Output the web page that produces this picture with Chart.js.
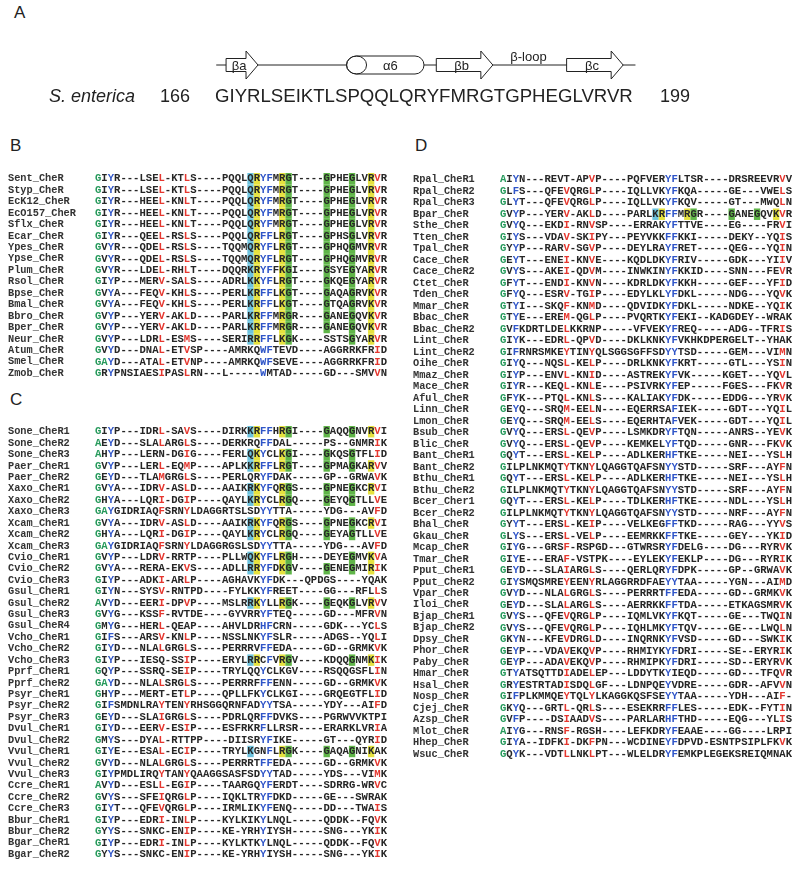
<!DOCTYPE html>
<html>
<head>
<meta charset="utf-8">
<script src="https://cdn.jsdelivr.net/npm/chart.js@4.4.0/dist/chart.umd.min.js"></script>
<style>
  body { margin: 0; background: #fff; width: 795px; height: 869px; position: relative; overflow: hidden; }
  canvas { position: absolute; }
  .tag { position: absolute; font: 17px "Liberation Sans", Arial, sans-serif; color: #222; }
</style>
</head>
<body>
<div class="tag" style="left:14px;top:3px">A</div>
<div class="tag" style="left:10px;top:136px">B</div>
<div class="tag" style="left:10px;top:390px">C</div>
<div class="tag" style="left:415px;top:136px">D</div>
<canvas id="chart-a" width="795" height="90" style="left:0;top:30px"></canvas>
<canvas id="chart-b"></canvas>
<canvas id="chart-c"></canvas>
<canvas id="chart-d"></canvas>
<script>
// ---- panel A : secondary structure of S. enterica CheR 166-199
const seqA = 'GIYRLSEIKTLSPQQLQRYFMRGTGPHEGLVRVR';
const seqAFirst = 166;
const seqALast = 199;
const organismA = 'S. enterica';
const elementLabels = ['βa', 'α6', 'βb', 'βc'];
const elementKinds = ['strand', 'helix', 'strand', 'strand'];
const elementStart = [166.4, 176.2, 183.5, 194.1];
const elementEnd = [169.0, 182.5, 188.1, 198.7];
const loopLabel = 'β-loop';
const loopCenter = 191.0;

// ---- panel B
const namesB = ['Sent_CheR', 'Styp_CheR', 'EcK12_CheR', 'EcO157_CheR', 'Sflx_CheR', 'Ecar_CheR',
  'Ypes_CheR', 'Ypse_CheR', 'Plum_CheR', 'Rsol_CheR', 'Bpse_CheR', 'Bmal_CheR', 'Bbro_CheR',
  'Bper_CheR', 'Neur_CheR', 'Atum_CheR', 'Smel_CheR', 'Zmob_CheR'];
const seqsB = [
  'GIYR---LSEL-KTLS----PQQLQRYFMRGT----GPHEGLVRVR',
  'GIYR---LSEL-KTLS----PQQLQRYFMRGT----GPHEGLVRVR',
  'GIYR---HEEL-KNLT----PQQLQRYFMRGT----GPHEGLVRVR',
  'GIYR---HEEL-KNLT----PQQLQRYFMRGT----GPHEGLVRVR',
  'GIYR---HEEL-KNLT----PQQLQRYFMRGT----GPHEGLVRVR',
  'GIYR---QEEL-RSLS----PQQLQRFFLRGT----GPHSGLVRVR',
  'GVYR---QDEL-RSLS----TQQMQRYFLRGT----GPHQGMVRVR',
  'GVYR---QDEL-RSLS----TQQMQRYFLRGT----GPHQGMVRVR',
  'GVYR---LDEL-RHLT----DQQRKRYFFKGI----GSYEGYARVR',
  'GIYP---MERV-SALS----ADRLKKYFLRGT----GKQEGYARVR',
  'GVYA---FEQV-KHLS----PERLKRFFLKGT----GAQAGRVKVR',
  'GVYA---FEQV-KHLS----PERLKRFFLKGT----GTQAGRVKVR',
  'GVYP---YERV-AKLD----PARLKRFFMRGR----GANEGQVKVR',
  'GVYP---YERV-AKLD----PARLKRFFMRGR----GANEGQVKVR',
  'GVYP---LDRL-ESMS----SERIRRFFLKGK----SSTSGYARVR',
  'GVYD---DNAL-ETVSP----AMRKQWFTEVD----AGGRRKFRID',
  'GAYD---ATAL-ETVNP----AMRKQWFSEVE----AGGRRKFRID',
  'GRYPNSIAESIPASLRN---L-----WMTAD-----GD---SMVVN'
];
const bandRowsB = [0, 1, 2, 3, 4, 5, 6, 7, 8, 9, 10, 11, 12, 13, 14];

// ---- panel C
const namesC = ['Sone_CheR1', 'Sone_CheR2', 'Sone_CheR3', 'Paer_CheR1', 'Paer_CheR2', 'Xaxo_CheR1',
  'Xaxo_CheR2', 'Xaxo_CheR3', 'Xcam_CheR1', 'Xcam_CheR2', 'Xcam_CheR3', 'Cvio_CheR1', 'Cvio_CheR2',
  'Cvio_CheR3', 'Gsul_CheR1', 'Gsul_CheR2', 'Gsul_CheR3', 'Gsul_CheR4', 'Vcho_CheR1', 'Vcho_CheR2',
  'Vcho_CheR3', 'Pprf_CheR1', 'Pprf_CheR2', 'Psyr_CheR1', 'Psyr_CheR2', 'Psyr_CheR3', 'Dvul_CheR1',
  'Dvul_CheR2', 'Vvul_CheR1', 'Vvul_CheR2', 'Vvul_CheR3', 'Ccre_CheR1', 'Ccre_CheR2', 'Ccre_CheR3',
  'Bbur_CheR1', 'Bbur_CheR2', 'Bgar_CheR1', 'Bgar_CheR2'];
const seqsC = [
  'GIYP---IDRL-SAVS----DIRKKRFFHRGI----GAQQGNVRVI',
  'AEYD---SLALARGLS----DERKRQFFDAL-----PS--GNMRIK',
  'AHYP---LERN-DGIG----FERLQKYCLKGI----GKQSGTFLID',
  'GVYP---LERL-EQMP----APLKKRFFLRGT----GPMAGKARVV',
  'GEYD---TLAMGRGLS----PERLQRYFDAK-----GP--GRWAVK',
  'GVYA---IDRV-ASLD----AAIKRKYFQRGS----GPNEGKCRVI',
  'GHYA---LQRI-DGIP----QAYLKRYCLRGQ----GEYQGTLLVE',
  'GAYGIDRIAQFSRNYLDAGGRTSLSDYYTTA-----YDG---AVFD',
  'GVYA---IDRV-ASLD----AAIKRKYFQRGS----GPNEGKCRVI',
  'GHYA---LQRI-DGIP----QAYLKRYCLRGQ----GEYAGTLLVE',
  'GAYGIDRIAQFSRNYLDAGGRGSLSDYYTTA-----YDG---AVFD',
  'GVYP---LDRV-RRTP----PLLWQKYFLRGH----DEYEGMVKVA',
  'GVYA---RERA-EKVS----ADLLRRYFDKGV----GENEGMIRIK',
  'GIYP---ADKI-ARLP----AGHAVKYFDK---QPDGS----YQAK',
  'GIYN---SYSV-RNTPD----FYLKKYFREET----GG---RFLLS',
  'AVYD---EERI-DPVP----MSLRRKYLLRGK----GEQKGLVRVV',
  'GVYG---KSSF-RVTDE----GYVRRYFTEQ-----GD---MFRVN',
  'GMYG---HERL-QEAP----AHVLDRHFCRN-----GDK---YCLS',
  'GIFS---ARSV-KNLP----NSSLNKYFSLR-----ADGS--YQLI',
  'GIYD---NLALGRGLS----PERRRVFFEDA-----GD--GRMKVK',
  'GIYP---IESQ-SSIP----ERYLRRCFVRGV----KDQQGNMKIK',
  'GQYP---SSRQ-SEIP----TRYLQQYCLKGV----RSQQGSFLIN',
  'GAYD---NLALSRGLS----PERRRFFFENN-----GD--GRMKVK',
  'GHYP---MERT-ETLP----QPLLFKYCLKGI----GRQEGTFLID',
  'GIFSMDNLRAYTENYRHSGGQRNFADYYTSA-----YDY---AIFD',
  'GEYD---SLAIGRGLS----PDRLQRFFDVKS----PGRWVVKTPI',
  'GIYD---EERV-ESIP----ESFRKRFLLRSR----ERARKLVRIA',
  'GMYS---DYAL-RTTPP----DIISRYFIKE-----GT---QYRID',
  'GIYE---ESAL-ECIP----TRYLKGNFLRGK----GAQAGNIKAK',
  'GVYD---NLALGRGLS----PERRRTFFEDA-----GD--GRMKVK',
  'GIYPMDLIRQYTANYQAAGGSASFSDYYTAD-----YDS---VIMK',
  'AVYD---ESLL-EGIP----TAARGQYFERDT----SDRRG-WRVC',
  'GVYS---SFEIQRGLP----IQKLTRYFDKD-----GE---SWRAK',
  'GIYT---QFEVQRGLP----IRMLIKYFENQ-----DD---TWAIS',
  'GIYP---EDRI-INLP----KYLKIKYLNQL-----QDDK--FQVK',
  'GYYS---SNKC-ENIP----KE-YRHYIYSH-----SNG---YKIK',
  'GIYP---EDRI-INLP----KYLKTKYLNQL-----QDDK--FQVK',
  'GYYS---SNKC-ENIP----KE-YRHYIYSH-----SNG---YKIK'
];
const bandRowsC = [0, 2, 3, 5, 6, 8, 9, 11, 12, 15, 20, 28];

// ---- panel D
const namesD = ['Rpal_CheR1', 'Rpal_CheR2', 'Rpal_CheR3', 'Bpar_CheR', 'Sthe_CheR', 'Tten_CheR',
  'Tpal_CheR', 'Cace_CheR', 'Cace_CheR2', 'Ctet_CheR', 'Tden_CheR', 'Mmar_CheR', 'Bbac_CheR',
  'Bbac_CheR2', 'Lint_CheR', 'Lint_CheR2', 'Oihe_CheR', 'Mmaz_CheR', 'Mace_CheR', 'Aful_CheR',
  'Linn_CheR', 'Lmon_CheR', 'Bsub_CheR', 'Blic_CheR', 'Bant_CheR1', 'Bant_CheR2', 'Bthu_CheR1',
  'Bthu_CheR2', 'Bcer_Cher1', 'Bcer_CheR2', 'Bhal_CheR', 'Gkau_CheR', 'Mcap_CheR', 'Tmar_CheR',
  'Pput_CheR1', 'Pput_CheR2', 'Vpar_CheR', 'Iloi_CheR', 'Bjap_CheR1', 'Bjap_CheR2', 'Dpsy_CheR',
  'Phor_CheR', 'Paby_CheR', 'Hmar_CheR', 'Hsal_CheR', 'Nosp_CheR', 'Cjej_CheR', 'Azsp_CheR',
  'Mlot_CheR', 'Hhep_CheR', 'Wsuc_CheR'];
const seqsD = [
  'AIYN---REVT-APVP----PQFVERYFLTSR----DRSREEVRVV',
  'GLFS---QFEVQRGLP----IQLLVKYFKQA-----GE---VWELS',
  'GLYT---QFEVQRGLP----IQLLVKYFKQV-----GT---MWQLN',
  'GVYP---YERV-AKLD----PARLKRFFMRGR----GANEGQVKVR',
  'GVYQ---EKDI-RNVSP----ERRAKYFTTVE----EG----FRVI',
  'GIYS---VDAV-SKIPY---PEYVKKFFKKI-----DEKY--YQIS',
  'GYYP---RARV-SGVP----DEYLRAYFRET-----QEG---YQIN',
  'GEYT---ENEI-KNVE----KQDLDKYFRIV-----GDK---YIIV',
  'GVYS---AKEI-QDVM----INWKINYFKKID----SNN---FEVR',
  'GFYT---ENDI-KNVN----KDRLDKYFKKH-----GEF---YFID',
  'GFYQ---ESRV-TGIP----EDYLKLYFDKL-----NDG---YQVK',
  'GTYI---SKQF-KNMD----QDVIDKYFDKL-----NDKE--YQIK',
  'GTYE---EREM-QGLP----PVQRTKYFEKI--KADGDEY--WRAK',
  'GVFKDRTLDELKKRNP-----VFVEKYFREQ-----ADG--TFRIS',
  'GIYK---EDRL-QPVD----DKLKNKYFVKHKDPERGELT--YHAK',
  'GIFRNRSMKEYTINYQLSGGSGFFSDYYTSD-----GEM---VIMN',
  'GIYQ---NQSL-KELP----DRLKNKYFKRT-----GTL---YSIN',
  'GIYP---ENVL-KNID----ASTREKYFVK-----KGET---YQVL',
  'GIYR---KEQL-KNLE----PSIVRKYFEP-----FGES---FKVR',
  'GFYK---PTQL-KNLS----KALIAKYFDK-----EDDG---YRVK',
  'GEYQ---SRQM-EELN----EQERRSAFIEK-----GDT---YQIL',
  'GEYQ---SRQM-EELS----EQERHTAFVEK-----GDT---YQIL',
  'GVYQ---ERSL-QEVP----LSMKDRYFTQN-----ANRS--YEVK',
  'GVYQ---ERSL-QEVP----KEMKELYFTQD-----GNR---FKVK',
  'GQYT---ERSL-KELP----ADLKERHFTKE-----NEI---YSLH',
  'GILPLNKMQTYTKNYLQAGGTQAFSNYYSTD-----SRF---AYFN',
  'GQYT---ERSL-KELP----ADLKERHFTKE-----NEI---YSLH',
  'GILPLNKMQTYTKNYLQAGGTQAFSNYYSTD-----SRF---AYFN',
  'GQYT---ERSL-KELP----TDLKERHFTKE-----NDL---YSLH',
  'GILPLNKMQTYTKNYLQAGGTQAFSNYYSTD-----NRF---AYFN',
  'GYYT---ERSL-KEIP----VELKEGFFTKD-----RAG---YYVS',
  'GLYS---ERSL-VELP----EEMRKKFFTKE-----GEY---YKID',
  'GIYG---GRSF-RSPGD---GTWRSRYFDELG----DG---RYRVK',
  'GIYE---ERAF-VSTPK----EYLEKYFEKLP----DG---RYRIK',
  'GEYD---SLAIARGLS----QERLQRYFDPK-----GP--GRWAVK',
  'GIYSMQSMREYEENYRLAGGRRDFAEYYTAA-----YGN---AIMD',
  'GVYD---NLALGRGLS----PERRRTFFEDA-----GD--GRMKVK',
  'GEYD---SLALARGLS----AERRKKFFTDA-----ETKAGSMRVK',
  'GVYS---QFEVQRGLP----IQMLVKYFKQT-----GE---TWQIN',
  'GVYS---QFEVQRGLP----IQHLMKYFTQV-----GE---LWQLN',
  'GKYN---KFEVDRGLD----INQRNKYFVSD-----GD---SWKIK',
  'GEYP---VDAVEKQVP----RHMIYKYFDRI-----SE--ERYRIK',
  'GEYP---ADAVEKQVP----RHMIPKYFDRI-----SD--ERYRVK',
  'GTYATSQTTDIADELEP---LDDYTKYIEQD-----GD---TFQVR',
  'GRYESTRTADISDQLGF---LDNPQEYVDRE-----GDR--AFVVN',
  'GIFPLKMMQEYTQLYLKAGGKQSFSEYYTAA-----YDH---AIF-',
  'GKYQ---GRTL-QRLS----ESEKRRFFLES-----EDK--FYTIN',
  'GVFP----DSIAADVS----PARLARHFTHD-----EQG---YLIS',
  'AIYG---RNSF-RGSH----LEFKDRYFEAAE----GG----LRPI',
  'GIYA--IDFKI-DKFPN---WCDINEYFDPVD-ESNTPSIPLFKVK',
  'GQYK---VDTLLNKLPT---WLELDRYFEMKPLEGEKSREIQMNAK'
];
const bandRowsD = [3];

// alignment columns that carry colour, and the highlight band
const greenCols = [0];
const blueCols = [2, 26, 27];
const redCols = [10, 14, 44];
const bandCols = [24, 25, 29, 30, 36, 40, 43];
const bandKinds = ['c', 'y', 'y', 'g', 'g', 'g', 'y'];

const INK = '#262626';
const GREEN = '#279a5c';
const BLUE = '#2f55c8';
const RED = '#e5372f';
const HL = { c: '#6cc3df', y: '#e6e23f', g: '#5fb548' };
const MONO = '"Liberation Mono", "Courier New", monospace';
const CHAR_W = 6.35;

function letterColor(ch, col) {
  if (greenCols.includes(col) && 'GA'.includes(ch)) return GREEN;
  if (col === 1 && ch === 'A') return GREEN;
  if (blueCols.includes(col) && 'YFHW'.includes(ch)) return BLUE;
  if (redCols.includes(col) && 'LVIMFY'.includes(ch)) return RED;
  return INK;
}

function highlightFor(ch, kind) {
  if (ch === '-') return null;
  if (kind === 'y' && !'KR'.includes(ch)) return null;
  if (kind === 'g' && ch !== 'G') return null;
  return HL[kind];
}

const alignmentPlugin = {
  id: 'alignment',
  beforeDatasetsDraw(chart) {
    const { ctx, scales: { x, y } } = chart;
    const opts = chart.options.plugins.alignment;
    const rowH = Math.abs(y.getPixelForValue(1) - y.getPixelForValue(0));
    ctx.save();
    opts.bandRows.forEach((r) => {
      const seq = opts.seqs[r];
      bandCols.forEach((c, i) => {
        const fill = highlightFor(seq[c], bandKinds[i]);
        if (!fill) return;
        const x0 = x.getPixelForValue(c - 0.5);
        const x1 = x.getPixelForValue(c + 0.5);
        ctx.fillStyle = fill;
        ctx.fillRect(x0, y.getPixelForValue(r) - rowH / 2, x1 - x0, rowH);
      });
    });
    ctx.restore();
  },
  afterDatasetsDraw(chart) {
    const { ctx, scales: { x, y } } = chart;
    const opts = chart.options.plugins.alignment;
    ctx.save();
    ctx.font = 'bold 10.6px ' + MONO;
    ctx.textAlign = 'center';
    ctx.textBaseline = 'middle';
    opts.seqs.forEach((seq, r) => {
      const py = y.getPixelForValue(r);
      for (let c = 0; c < seq.length; c++) {
        ctx.fillStyle = letterColor(seq[c], c);
        ctx.fillText(seq[c], x.getPixelForValue(c), py);
      }
    });
    ctx.restore();
  }
};

function makeAlignmentChart(id, names, seqs, bandRows, left, firstRowY, rowH) {
  const canvas = document.getElementById(id);
  const nCols = seqs[0].length;
  const pad = 10;
  canvas.width = 95 + nCols * CHAR_W;
  canvas.height = names.length * rowH + 2 * pad;
  canvas.style.left = left + 'px';
  canvas.style.top = (firstRowY - rowH / 2 - pad) + 'px';

  return new Chart(canvas, {
    type: 'scatter',
    data: { datasets: [] },
    options: {
      responsive: false,
      animation: false,
      events: [],
      layout: { padding: { left: 8, top: pad, bottom: pad, right: 0 } },
      plugins: {
        legend: { display: false },
        tooltip: { enabled: false },
        alignment: { seqs, bandRows }
      },
      scales: {
        x: { type: 'linear', min: -0.5, max: nCols - 0.5, display: false },
        y: {
          type: 'category',
          labels: names,
          offset: true,
          grid: { display: false },
          border: { display: false },
          ticks: {
            crossAlign: 'far',
            autoSkip: false,
            padding: 0,
            color: '#333',
            font: { family: MONO, size: 10.3, weight: 'bold' }
          },
          afterFit(scale) { scale.width = 87; }
        }
      }
    },
    plugins: [alignmentPlugin]
  });
}

makeAlignmentChart('chart-b', namesB, seqsB, bandRowsB, 0, 179, 11.47);
makeAlignmentChart('chart-c', namesC, seqsC, bandRowsC, 0, 432, 11.43);
makeAlignmentChart('chart-d', namesD, seqsD, bandRowsD, 405, 180, 11.5);

// ---- panel A drawing
const structurePlugin = {
  id: 'structure',
  afterDraw(chart) {
    const { ctx, chartArea, scales: { x } } = chart;
    const lineY = chartArea.top + 35;
    const seqY = chartArea.top + 67;
    ctx.save();
    ctx.strokeStyle = '#222';
    ctx.lineWidth = 1;

    ctx.beginPath();
    ctx.moveTo(x.getPixelForValue(seqAFirst - 0.4), lineY);
    ctx.lineTo(x.getPixelForValue(seqALast + 0.7), lineY);
    ctx.stroke();

    ctx.font = '13px "Liberation Sans", Arial, sans-serif';
    ctx.textAlign = 'center';
    ctx.textBaseline = 'middle';

    elementLabels.forEach((label, i) => {
      const x0 = x.getPixelForValue(elementStart[i]);
      const x1 = x.getPixelForValue(elementEnd[i]);
      ctx.fillStyle = '#fff';
      ctx.beginPath();
      if (elementKinds[i] === 'strand') {
        const head = 12;
        const hb = 6.5;
        const hh = 14;
        ctx.moveTo(x0, lineY - hb);
        ctx.lineTo(x1 - head, lineY - hb);
        ctx.lineTo(x1 - head, lineY - hh);
        ctx.lineTo(x1, lineY);
        ctx.lineTo(x1 - head, lineY + hh);
        ctx.lineTo(x1 - head, lineY + hb);
        ctx.lineTo(x0, lineY + hb);
        ctx.closePath();
        ctx.fill();
        ctx.stroke();
        ctx.fillStyle = '#222';
        ctx.fillText(label, (x0 + x1 - head) / 2 + 3, lineY + 1);
      } else {
        const r = 9;
        const rx = 10;
        ctx.moveTo(x0 + rx, lineY - r);
        ctx.lineTo(x1 - r, lineY - r);
        ctx.arc(x1 - r, lineY, r, -Math.PI / 2, Math.PI / 2);
        ctx.lineTo(x0 + rx, lineY + r);
        ctx.ellipse(x0 + rx, lineY, rx, r, 0, Math.PI / 2, Math.PI * 1.5);
        ctx.closePath();
        ctx.fill();
        ctx.stroke();
        ctx.beginPath();
        ctx.ellipse(x0 + rx, lineY, rx, r, 0, 0, Math.PI * 2);
        ctx.stroke();
        ctx.fillStyle = '#222';
        ctx.fillText(label, (x0 + x1) / 2 + 5, lineY + 1);
      }
    });

    ctx.fillStyle = '#222';
    ctx.fillText(loopLabel, x.getPixelForValue(loopCenter), lineY - 8);

    // sequence line
    const left = x.getPixelForValue(seqAFirst - 0.5);
    const right = x.getPixelForValue(seqALast + 0.5);
    ctx.textBaseline = 'middle';
    ctx.font = '18px "Liberation Sans", Arial, sans-serif';
    const size = 18 * (right - left) / ctx.measureText(seqA).width;
    ctx.font = size.toFixed(2) + 'px "Liberation Sans", Arial, sans-serif';
    ctx.textAlign = 'left';
    ctx.fillText(seqA, left, seqY);
    ctx.font = '18px "Liberation Sans", Arial, sans-serif';
    ctx.textAlign = 'right';
    ctx.fillText(String(seqAFirst), left - 25, seqY);
    ctx.textAlign = 'left';
    ctx.fillText(String(seqALast), right + 27, seqY);
    ctx.font = 'italic 18px "Liberation Sans", Arial, sans-serif';
    ctx.textAlign = 'right';
    ctx.fillText(organismA, left - 80, seqY);
    ctx.restore();
  }
};

new Chart(document.getElementById('chart-a'), {
  type: 'scatter',
  data: { datasets: [] },
  options: {
    responsive: false,
    animation: false,
    events: [],
    layout: { padding: { left: 215, right: 162, top: 0, bottom: 0 } },
    plugins: { legend: { display: false }, tooltip: { enabled: false } },
    scales: {
      x: { type: 'linear', min: seqAFirst - 0.5, max: seqALast + 0.5, display: false },
      y: { type: 'linear', min: 0, max: 1, display: false }
    }
  },
  plugins: [structurePlugin]
});
</script>
</body>
</html>
